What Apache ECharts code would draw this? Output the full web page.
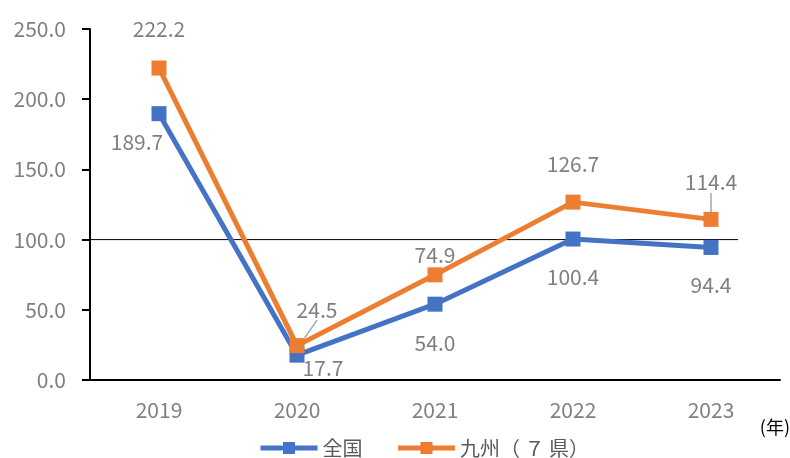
<!DOCTYPE html>
<html>
<head>
<meta charset="utf-8">
<script src="https://cdn.jsdelivr.net/npm/echarts@6/dist/echarts.min.js"></script>
<style>
  html, body { margin: 0; padding: 0; background: #fff; }
  #chart { width: 790px; height: 458px; }
</style>
</head>
<body>
<div id="chart"></div>
<script>
var years = ['2019', '2020', '2021', '2022', '2023'];
var zenkoku = [189.7, 17.7, 54.0, 100.4, 94.4];
var kyushu = [222.2, 24.5, 74.9, 126.7, 114.4];
var baseline = 100;

// label offsets (pixels from the point)
var zenkokuOffsets = [[-22, 28], [26, 13], [0, 39], [0, 38], [0, 38]];
var kyushuOffsets = [[0, -39], [20, -36], [0, -20], [0, -38], [0, -37]];
var kyushuLeader = [false, true, false, false, true];

var FONT = '"Noto Sans CJK JP", "Noto Sans", sans-serif';

function buildData(values, offsets, leader) {
    return values.map(function(v, i) {
        var d = { value: v, label: { offset: offsets[i] } };
        if (leader && leader[i]) {
            d.labelLine = { show: true, lineStyle: { color: '#a6a6a6', width: 1.5 } };
        }
        return d;
    });
}

var chart = echarts.init(document.getElementById('chart'));

var labelStyle = {
    show: true,
    position: 'inside',
    align: 'center',
    verticalAlign: 'middle',
    color: '#7f7f7f',
    fontSize: 21,
    fontFamily: FONT,
    formatter: function(p) { return p.value.toFixed(1); }
};

var option = {
    animation: false,
    grid: { left: 90, right: 10, top: 29, bottom: 78 },
    legend: {
        top: 433,
        left: 253,
        itemWidth: 57,
        itemHeight: 15,
        itemGap: 33,
        lineStyle: { width: 5 },
        textStyle: { color: '#595959', fontSize: 20, fontFamily: FONT },
        data: ['全国', '九州（ ７ 県）']
    },
    xAxis: [{
        type: 'category',
        data: years,
        axisLine: { lineStyle: { color: '#000', width: 2 } },
        axisTick: { show: false },
        axisLabel: { color: '#7f7f7f', fontSize: 21, fontFamily: FONT, margin: 20 }
    }, {
        // hidden helper axis for the 100 reference line (plot width in px)
        type: 'value',
        min: 0,
        max: 690,
        show: false
    }],
    yAxis: {
        type: 'value',
        min: 0,
        max: 250,
        interval: 50,
        axisLine: { show: true, lineStyle: { color: '#000', width: 2 } },
        axisTick: { show: true, length: 8, lineStyle: { color: '#000', width: 2 } },
        splitLine: { show: false },
        axisLabel: {
            color: '#7f7f7f', fontSize: 21, fontFamily: FONT, margin: 24,
            formatter: function(v) { return v.toFixed(1); }
        }
    },
    graphic: [{
        type: 'text',
        right: 0,
        top: 418,
        style: { text: '(年)', fill: '#000', fontSize: 18, fontFamily: FONT }
    }],
    series: [
        {
            name: 'ref',
            type: 'line',
            xAxisIndex: 1,
            data: [[0, baseline], [648, baseline]],
            symbol: 'none',
            silent: true,
            lineStyle: { color: '#000', width: 1 },
            z: 1
        },
        {
            name: '全国',
            type: 'line',
            data: buildData(zenkoku, zenkokuOffsets),
            symbol: 'rect',
            symbolSize: 15,
            lineStyle: { color: '#4472c4', width: 5 },
            itemStyle: { color: '#4472c4' },
            label: labelStyle,
            z: 3
        },
        {
            name: '九州（ ７ 県）',
            type: 'line',
            data: buildData(kyushu, kyushuOffsets, kyushuLeader),
            symbol: 'rect',
            symbolSize: 15,
            lineStyle: { color: '#ed7d31', width: 5 },
            itemStyle: { color: '#ed7d31' },
            label: labelStyle,
            z: 4
        }
    ]
};

chart.setOption(option);
</script>
</body>
</html>
